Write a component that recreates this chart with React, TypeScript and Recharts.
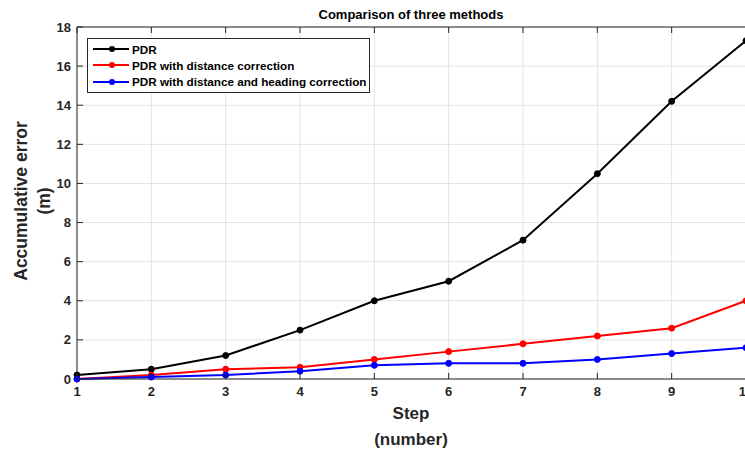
import React from "react";
import { LineChart, Line, XAxis, YAxis, CartesianGrid } from "recharts";

// steps on the x axis
const steps = [1, 2, 3, 4, 5, 6, 7, 8, 9, 10];
// accumulative error (m) per method
const pdr = [0.2, 0.5, 1.2, 2.5, 4.0, 5.0, 7.1, 10.5, 14.2, 17.3];
const pdrDist = [0.0, 0.2, 0.5, 0.6, 1.0, 1.4, 1.8, 2.2, 2.6, 4.0];
const pdrDistHead = [0.0, 0.1, 0.2, 0.4, 0.7, 0.8, 0.8, 1.0, 1.3, 1.6];

const yTicks = [0, 2, 4, 6, 8, 10, 12, 14, 16, 18];

const seriesInfo = [
  { key: "pdr", name: "PDR", color: "#000000" },
  { key: "dist", name: "PDR with distance correction", color: "#ff0000" },
  { key: "head", name: "PDR with distance and heading correction", color: "#0000ff" },
];

const data = steps.map((s, i) => ({
  step: s,
  pdr: pdr[i],
  dist: pdrDist[i],
  head: pdrDistHead[i],
}));

const FONT = "'Liberation Sans', Arial, Helvetica, sans-serif";
const AXIS = "#262626";

const BottomTick = (props: any) => {
  const { x, y, payload } = props;
  return (
    <g>
      <line x1={x} x2={x} y1={y} y2={y - 6} stroke={AXIS} strokeWidth={1} />
      <text x={x} y={y + 17} textAnchor="middle" fontFamily={FONT} fontWeight="bold" fontSize={13} fill={AXIS}>
        {payload.value}
      </text>
    </g>
  );
};

const TopTick = (props: any) => {
  const { x, y } = props;
  return <line x1={x} x2={x} y1={y} y2={y + 6} stroke={AXIS} strokeWidth={1} />;
};

const LeftTick = (props: any) => {
  const { x, y, payload } = props;
  return (
    <g>
      <line x1={x} x2={x + 6} y1={y} y2={y} stroke={AXIS} strokeWidth={1} />
      <text x={x - 6} y={y + 4.5} textAnchor="end" fontFamily={FONT} fontWeight="bold" fontSize={13} fill={AXIS}>
        {payload.value}
      </text>
    </g>
  );
};

const RightTick = (props: any) => {
  const { x, y } = props;
  return <line x1={x} x2={x - 6} y1={y} y2={y} stroke={AXIS} strokeWidth={1} />;
};

const LegendBox = () => (
  <div
    style={{
      position: "absolute",
      left: 87,
      top: 38,
      border: "1px solid #262626",
      background: "#fff",
      padding: "2px 3px 2px 5px",
      fontFamily: FONT,
      fontWeight: "bold",
      fontSize: 11.7,
      color: "#000",
    }}
  >
    {seriesInfo.map((s) => (
      <div key={s.key} style={{ display: "flex", alignItems: "center", height: 16.3 }}>
        <svg width={36} height={8} style={{ marginRight: 3 }}>
          <line x1={0} x2={36} y1={4} y2={4} stroke={s.color} strokeWidth={2} />
          <circle cx={19} cy={4} r={3} fill={s.color} />
        </svg>
        <span>{s.name}</span>
      </div>
    ))}
  </div>
);

export default function App() {
  return (
    <div style={{ position: "absolute", left: 0, top: 0, width: 745, height: 451, overflow: "hidden", background: "#fff" }}>
      <div
        style={{
          position: "absolute",
          left: 0,
          width: 822,
          top: 7,
          textAlign: "center",
          fontFamily: FONT,
          fontWeight: "bold",
          fontSize: 13,
          color: "#000",
        }}
      >
        Comparison of three methods
      </div>
      <svg width={60} height={451} style={{ position: "absolute", left: 0, top: 0 }}>
        <text
          transform="translate(27,201) rotate(-90)"
          textAnchor="middle"
          fontFamily={FONT}
          fontWeight="bold"
          fontSize={17.5}
          fill={AXIS}
        >
          Accumulative error
        </text>
        <text
          transform="translate(50,201) rotate(-90)"
          textAnchor="middle"
          fontFamily={FONT}
          fontWeight="bold"
          fontSize={17.5}
          fill={AXIS}
        >
          (m)
        </text>
      </svg>
      <svg width={745} height={60} style={{ position: "absolute", left: 0, top: 395 }}>
        <text x={411} y={24} textAnchor="middle" fontFamily={FONT} fontWeight="bold" fontSize={17} fill={AXIS}>
          Step
        </text>
        <text x={411} y={50} textAnchor="middle" fontFamily={FONT} fontWeight="bold" fontSize={17} fill={AXIS}>
          (number)
        </text>
      </svg>
      <div style={{ position: "absolute", left: 0, top: 0 }}>
        <LineChart width={760} height={451} data={data} margin={{ top: 26, right: 13, bottom: 71, left: 0 }}>
          <CartesianGrid xAxisId="b" yAxisId="l" stroke="#e3e3e3" strokeWidth={1} />
          <XAxis
            xAxisId="b"
            dataKey="step"
            type="number"
            domain={[1, 10]}
            ticks={steps}
            height={1}
            tickSize={0}
            tickMargin={0}
            tickLine={false}
            stroke={AXIS}
            tick={<BottomTick />}
          />
          <XAxis
            xAxisId="t"
            orientation="top"
            dataKey="step"
            type="number"
            domain={[1, 10]}
            ticks={steps}
            height={1}
            tickSize={0}
            tickMargin={0}
            tickLine={false}
            stroke={AXIS}
            tick={<TopTick />}
          />
          <YAxis
            yAxisId="l"
            type="number"
            domain={[0, 18]}
            ticks={yTicks}
            width={77}
            tickSize={0}
            tickMargin={0}
            tickLine={false}
            stroke={AXIS}
            tick={<LeftTick />}
          />
          <YAxis
            yAxisId="r"
            orientation="right"
            type="number"
            domain={[0, 18]}
            ticks={yTicks}
            width={1}
            tickSize={0}
            tickMargin={0}
            tickLine={false}
            stroke={AXIS}
            tick={<RightTick />}
          />
          {seriesInfo.map((s) => (
            <Line
              key={s.key}
              xAxisId="b"
              yAxisId="l"
              dataKey={s.key}
              name={s.name}
              stroke={s.color}
              strokeWidth={2}
              dot={{ r: 3, fill: s.color, stroke: s.color, strokeWidth: 1 }}
              isAnimationActive={false}
            />
          ))}
        </LineChart>
      </div>
      <LegendBox />
    </div>
  );
}
